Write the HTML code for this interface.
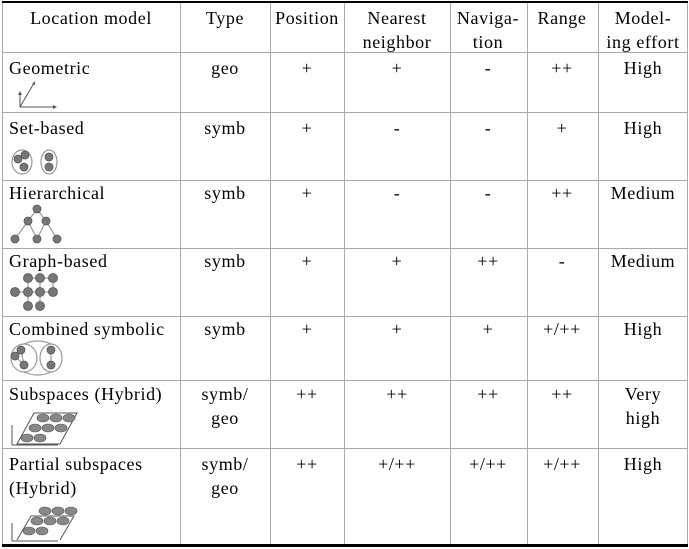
<!DOCTYPE html>
<html><head><style>body{margin:0;background:#fff}svg{display:block}text{font-family:"Liberation Serif",serif;font-size:18px;letter-spacing:0.6px;fill:#000}</style></head><body>
<svg width="689" height="549" viewBox="0 0 689 549">
<g stroke="#aaa" stroke-width="1">
<line x1="2.5" y1="2" x2="2.5" y2="546"/><line x1="687.5" y1="2" x2="687.5" y2="546"/>
<line x1="180.5" y1="2" x2="180.5" y2="546"/><line x1="270.5" y1="2" x2="270.5" y2="546"/>
<line x1="344.5" y1="2" x2="344.5" y2="546"/><line x1="450.5" y1="2" x2="450.5" y2="546"/>
<line x1="527.5" y1="2" x2="527.5" y2="546"/><line x1="598.5" y1="2" x2="598.5" y2="546"/>
<line x1="2" y1="52.5" x2="688" y2="52.5"/><line x1="2" y1="112.5" x2="688" y2="112.5"/>
<line x1="2" y1="180.5" x2="688" y2="180.5"/><line x1="2" y1="248.5" x2="688" y2="248.5"/>
<line x1="2" y1="316.5" x2="688" y2="316.5"/><line x1="2" y1="380.5" x2="688" y2="380.5"/>
<line x1="2" y1="448.5" x2="688" y2="448.5"/>
</g>
<rect x="2" y="1" width="686" height="2" fill="#000"/>
<rect x="2" y="544" width="686" height="3" fill="#000"/>
<g text-anchor="middle">
<text x="91" y="24">Location model</text><text x="225" y="24">Type</text><text x="307" y="24">Position</text>
<text x="397" y="24">Nearest</text><text x="397" y="48">neighbor</text>
<text x="488" y="24">Naviga-</text><text x="488" y="48">tion</text>
<text x="562" y="24">Range</text><text x="643" y="24">Model-</text><text x="643" y="48">ing effort</text>
<text x="225" y="74">geo</text><text x="307" y="74">+</text><text x="397" y="74">+</text><text x="488" y="74">-</text><text x="562" y="74">++</text><text x="643" y="74">High</text>
<text x="225" y="134">symb</text><text x="307" y="134">+</text><text x="397" y="134">-</text><text x="488" y="134">-</text><text x="562" y="134">+</text><text x="643" y="134">High</text>
<text x="225" y="199">symb</text><text x="307" y="199">+</text><text x="397" y="199">-</text><text x="488" y="199">-</text><text x="562" y="199">++</text><text x="643" y="199">Medium</text>
<text x="225" y="267">symb</text><text x="307" y="267">+</text><text x="397" y="267">+</text><text x="488" y="267">++</text><text x="562" y="267">-</text><text x="643" y="267">Medium</text>
<text x="225" y="335">symb</text><text x="307" y="335">+</text><text x="397" y="335">+</text><text x="488" y="335">+</text><text x="562" y="335">+/++</text><text x="643" y="335">High</text>
<text x="225" y="400">symb/</text><text x="225" y="424">geo</text><text x="307" y="400">++</text><text x="397" y="400">++</text><text x="488" y="400">++</text><text x="562" y="400">++</text><text x="643" y="400">Very</text><text x="643" y="424">high</text>
<text x="225" y="470">symb/</text><text x="225" y="494">geo</text><text x="307" y="470">++</text><text x="397" y="470">+/++</text><text x="488" y="470">+/++</text><text x="562" y="470">+/++</text><text x="643" y="470">High</text>
</g>
<g>
<text x="9" y="74">Geometric</text><text x="9" y="134">Set-based</text><text x="9" y="199">Hierarchical</text>
<text x="9" y="267">Graph-based</text><text x="9" y="335">Combined symbolic</text><text x="9" y="400">Subspaces (Hybrid)</text>
<text x="9" y="470">Partial subspaces</text><text x="9" y="494">(Hybrid)</text>
</g>
<!-- icons -->
<g stroke="#555" fill="none" stroke-width="1">
<path d="M20 107 V95 M20 107 H53 M20 107 L34 83"/>
</g>
<g fill="#555"><path d="M18 95 l2-4 l2 4z M53 105 l4 2 l-4 2z M32 84 l3-3 l0 4z"/></g>
<g stroke="#999" fill="none" stroke-width="1.2">
<ellipse cx="22" cy="162" rx="10" ry="12"/><ellipse cx="49" cy="162" rx="8" ry="12"/>
<path d="M37 209 L28 221 M37 209 L46 221 M28 221 L15 239 M28 221 L37 239 M46 221 L37 239 M46 221 L57 239"/>
<path d="M28 278 H53 M15 292 H53 M28 278 V306 M40 278 V306 M53 278 V292"/>
<path d="M15 356 L21 350 M21 350 L24 365 M15 356 L24 365 M51 350 V365"/>
<ellipse cx="24" cy="358" rx="13" ry="14"/><ellipse cx="51" cy="358" rx="11" ry="14"/>
<path d="M24 344 Q38 338 51 344 M24 372 Q38 378 51 372"/>
</g>
<g fill="#777" stroke="#555" stroke-width="0.8">
<circle cx="18" cy="159" r="4"/><circle cx="25" cy="155" r="4"/><circle cx="24" cy="167" r="4"/>
<circle cx="49" cy="157" r="4"/><circle cx="49" cy="167" r="4"/>
<circle cx="37" cy="209" r="4"/><circle cx="28" cy="221" r="4"/><circle cx="46" cy="221" r="4"/>
<circle cx="15" cy="239" r="4"/><circle cx="37" cy="239" r="4"/><circle cx="57" cy="239" r="4"/>
<circle cx="28" cy="278" r="4.5"/><circle cx="40" cy="278" r="4.5"/><circle cx="53" cy="278" r="4.5"/>
<circle cx="15" cy="292" r="4.5"/><circle cx="28" cy="292" r="4.5"/><circle cx="40" cy="292" r="4.5"/><circle cx="53" cy="292" r="4.5"/>
<circle cx="28" cy="306" r="4.5"/><circle cx="40" cy="306" r="4.5"/>
<circle cx="21" cy="350" r="4"/><circle cx="15" cy="356" r="4"/><circle cx="24" cy="365" r="4"/>
<circle cx="51" cy="350" r="4"/><circle cx="51" cy="365" r="4"/>
</g>
<g stroke="#555" fill="none">
<path d="M12 445 V425 M12 445 H58 M17 444 L34 413 H77 L60 444 Z"/>
<path d="M12 541 V523 M12 541 H58 M17 540 L31 516 H74 L60 540"/>
</g>
<g fill="#888" stroke="#555" stroke-width="0.6">
<ellipse cx="43" cy="418" rx="6" ry="4"/><ellipse cx="56" cy="418" rx="6" ry="4"/><ellipse cx="69" cy="418" rx="6" ry="4"/>
<ellipse cx="35" cy="428" rx="6" ry="4"/><ellipse cx="48" cy="428" rx="6" ry="4"/><ellipse cx="61" cy="428" rx="6" ry="4"/>
<ellipse cx="27" cy="438" rx="6" ry="4"/><ellipse cx="40" cy="438" rx="6" ry="4"/>
<ellipse cx="45" cy="511" rx="6" ry="4"/><ellipse cx="58" cy="511" rx="6" ry="4"/><ellipse cx="71" cy="511" rx="6" ry="4"/>
<ellipse cx="37" cy="521" rx="6" ry="4"/><ellipse cx="50" cy="521" rx="6" ry="4"/><ellipse cx="63" cy="521" rx="6" ry="4"/>
<ellipse cx="29" cy="531" rx="6" ry="4"/><ellipse cx="42" cy="531" rx="6" ry="4"/>
</g>
</svg>
</body></html>
